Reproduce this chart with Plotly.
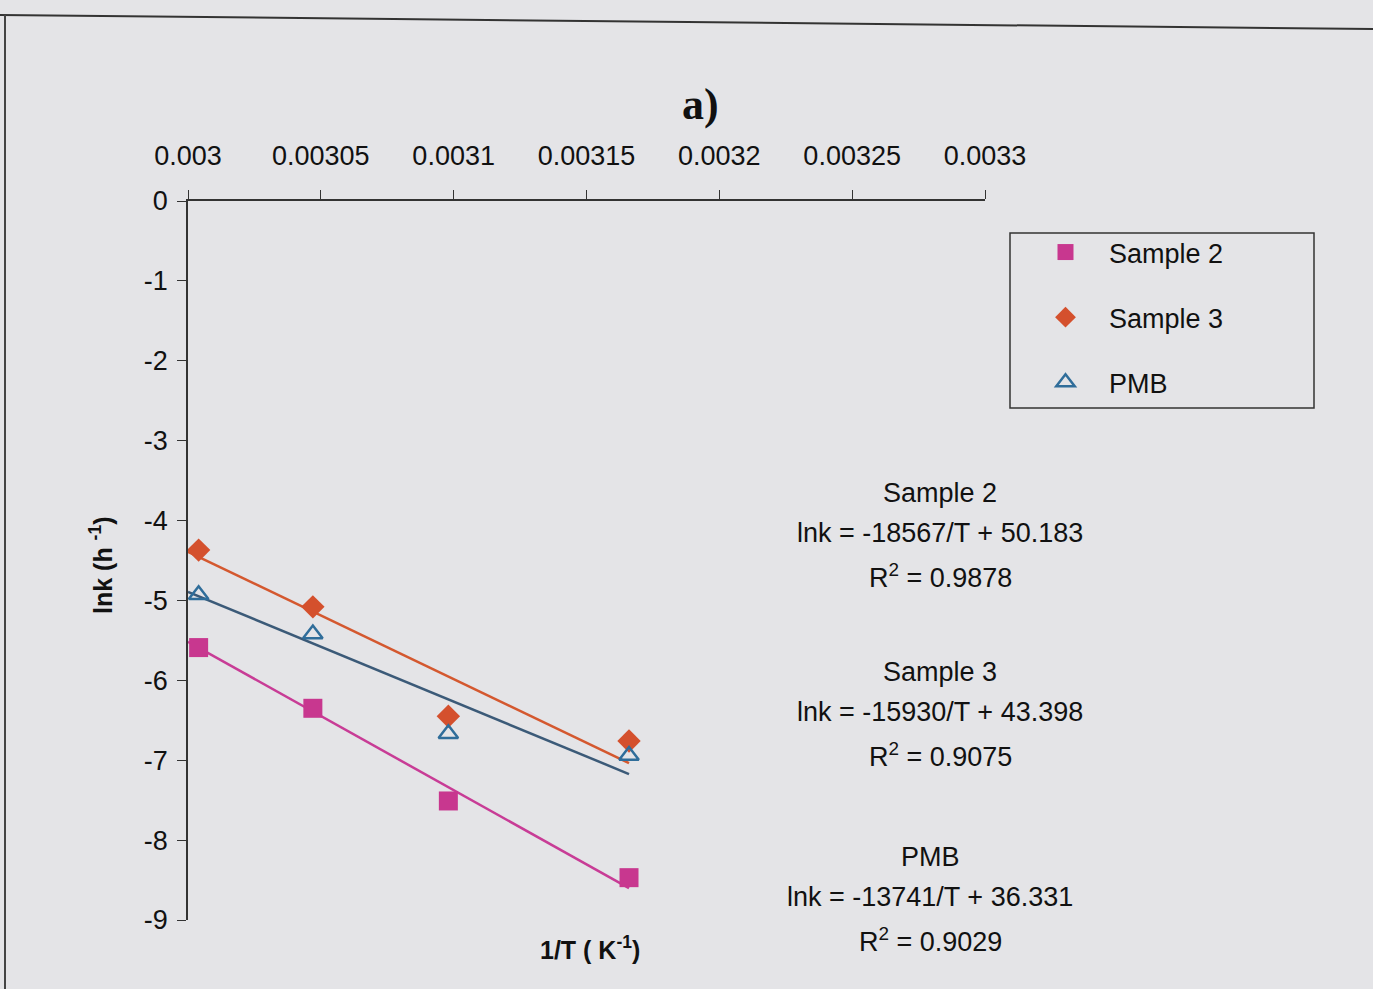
import plotly.graph_objects as go

# ---------------- data ----------------
inv_T = [0.003004, 0.003047, 0.003098, 0.003166]
sample2 = [-5.59, -6.35, -7.51, -8.47]
sample3 = [-4.37, -5.08, -6.45, -6.76]
pmb = [-4.93, -5.42, -6.67, -6.94]

# trendline coefficients (lnk = slope * (1/T) + intercept)
series_names = ["Sample 2", "Sample 3", "PMB"]
slopes = [-18567, -15930, -13741]
intercepts = [50.183, 43.398, 36.331]
r2_values = ["0.9878", "0.9075", "0.9029"]

x_tick_vals = [0.003, 0.00305, 0.0031, 0.00315, 0.0032, 0.00325, 0.0033]
x_tick_text = ["0.003", "0.00305", "0.0031", "0.00315", "0.0032", "0.00325", "0.0033"]
y_tick_vals = [0, -1, -2, -3, -4, -5, -6, -7, -8, -9]
y_tick_text = ["0", "-1", "-2", "-3", "-4", "-5", "-6", "-7", "-8", "-9"]

# ---------------- style ----------------
W, H = 1373, 989
L, R, T, B = 188, 388, 201, 69
PW, PH = W - L - R, H - T - B
BG = "#e4e4e7"
FONT = "Liberation Sans, Arial, sans-serif"
colors_marker = ["#c8378f", "#d4502d", "#2f6d9a"]
colors_line = ["#c83c96", "#d4582f", "#3b5a78"]
symbols = ["square", "diamond", "triangle-up-open"]
sizes = [19, 18, 17]


def px(xp):
    return (xp - L) / PW


def py(yp):
    return 1 - (yp - T) / PH


fig = go.Figure()

ys = [sample2, sample3, pmb]
line_x = [x_tick_vals[0], max(inv_T)]
for i, name in enumerate(series_names):
    fig.add_trace(go.Scatter(
        x=line_x, y=[slopes[i] * v + intercepts[i] for v in line_x],
        mode="lines", line=dict(color=colors_line[i], width=2.5),
        showlegend=False, hoverinfo="skip"))

for i, name in enumerate(series_names):
    mk = dict(color=colors_marker[i], size=sizes[i], symbol=symbols[i])
    if symbols[i].endswith("open"):
        mk["line"] = dict(width=2.5, color=colors_marker[i])
    fig.add_trace(go.Scatter(
        x=inv_T, y=ys[i], mode="markers", name=name, marker=mk,
        legendgroup=name))

# equation annotations
eq_centers_x = [940, 940, 930]
eq_top_y = [493, 672, 857]
ann = []
for i, name in enumerate(series_names):
    lines = [name,
             f"lnk = {slopes[i]}/T + {intercepts[i]:.3f}",
             f"R<sup>2</sup> = {r2_values[i]}"]
    offs = [0, 40, 83]
    for j, txt in enumerate(lines):
        ann.append(dict(x=px(eq_centers_x[i]), y=py(eq_top_y[i] + offs[j]),
                        xref="paper", yref="paper", text=txt, showarrow=False,
                        xanchor="center", yanchor="middle",
                        font=dict(family=FONT, size=27, color="#111111")))

ann.append(dict(x=px(700), y=py(105), xref="paper", yref="paper", text="<b>a)</b>",
                showarrow=False, xanchor="center", yanchor="middle",
                font=dict(family="Liberation Serif, Times New Roman, serif", size=44, color="#111111")))
ann.append(dict(x=px(101), y=py(565), xref="paper", yref="paper",
                text="<b>lnk (h <sup>-1</sup>)</b>", textangle=-90, showarrow=False,
                xanchor="center", yanchor="middle",
                font=dict(family=FONT, size=25, color="#111111")))
ann.append(dict(x=px(590), y=py(948), xref="paper", yref="paper",
                text="<b>1/T ( K<sup>-1</sup>)</b>", showarrow=False,
                xanchor="center", yanchor="middle",
                font=dict(family=FONT, size=25, color="#111111")))

shapes = [
    dict(type="rect", xref="paper", yref="paper", x0=px(1010), x1=px(1314),
         y0=py(408), y1=py(233), line=dict(color="#333333", width=1.5)),
    dict(type="line", xref="paper", yref="paper", x0=px(0), x1=px(W),
         y0=py(15), y1=py(29), line=dict(color="#333333", width=2)),
    dict(type="line", xref="paper", yref="paper", x0=px(5), x1=px(5),
         y0=py(15), y1=py(H), line=dict(color="#444444", width=2)),
]

fig.update_layout(
    width=W, height=H,
    margin=dict(l=L, r=R, t=T, b=B),
    paper_bgcolor=BG, plot_bgcolor=BG,
    font=dict(family=FONT, size=27, color="#111111"),
    showlegend=True,
    legend=dict(x=px(1022), y=py(228), xanchor="left", yanchor="top",
                bgcolor="rgba(0,0,0,0)", borderwidth=0,
                font=dict(family=FONT, size=27, color="#111111"),
                tracegroupgap=27, itemwidth=77),
    annotations=ann,
    shapes=shapes,
    xaxis=dict(range=[0.003, 0.0033], side="top", showgrid=False, zeroline=False,
               showline=True, linecolor="#333333", linewidth=1.5,
               ticks="outside", ticklen=9, tickcolor="#333333", tickwidth=1.2,
               tickvals=x_tick_vals, ticktext=x_tick_text,
               tickfont=dict(family=FONT, size=27, color="#111111"),
               ticklabelstandoff=14),
    yaxis=dict(range=[-9, 0], showgrid=False, zeroline=False,
               showline=True, linecolor="#333333", linewidth=1.5,
               ticks="outside", ticklen=9, tickcolor="#333333", tickwidth=1.2,
               tickvals=y_tick_vals, ticktext=y_tick_text,
               tickfont=dict(family=FONT, size=27, color="#111111"),
               ticklabelstandoff=4),
)

fig.write_html("out.html")
